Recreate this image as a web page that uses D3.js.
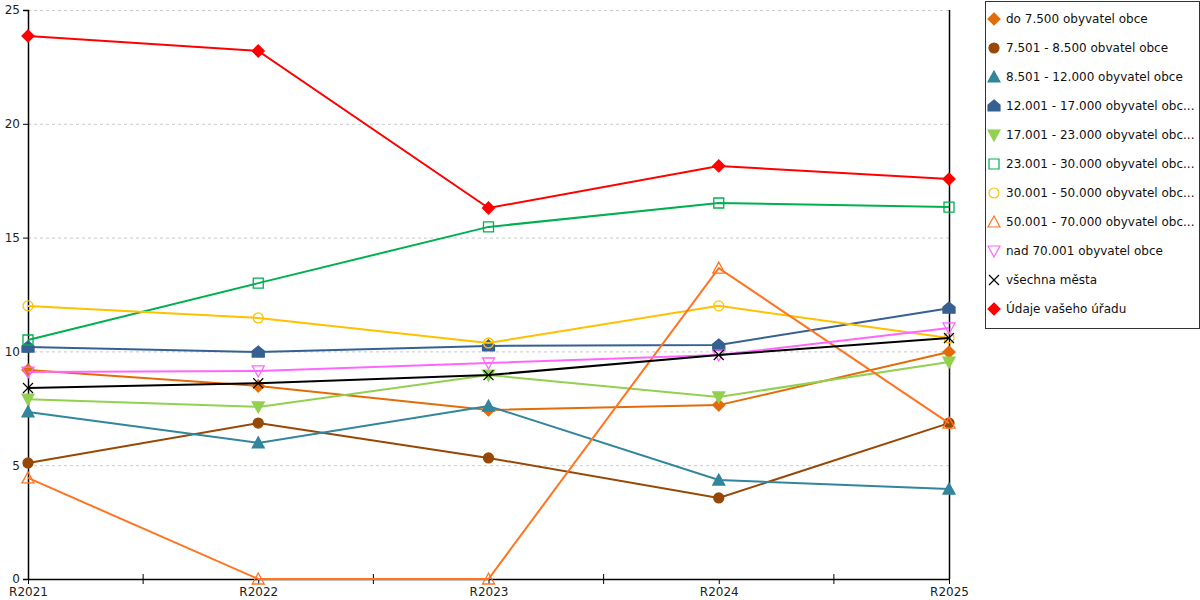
<!DOCTYPE html>
<html>
<head>
<meta charset="utf-8">
<script src="https://cdn.jsdelivr.net/npm/d3@7"></script>
<style>
  body { margin: 0; background: #fff; }
  svg { font-family: "DejaVu Sans", Verdana, sans-serif; }
  .grid line { stroke: #c8c8c8; stroke-dasharray: 3,3; }
</style>
</head>
<body>
<div id="chart"></div>
<script>
// categories (x axis)
var years = ["R2021", "R2022", "R2023", "R2024", "R2025"];

// legend labels, as shown
var seriesNames = [
  "do 7.500 obyvatel obce",
  "7.501 - 8.500 obvatel obce",
  "8.501 - 12.000 obyvatel obce",
  "12.001 - 17.000 obyvatel obc...",
  "17.001 - 23.000 obyvatel obc...",
  "23.001 - 30.000 obyvatel obc...",
  "30.001 - 50.000 obyvatel obc...",
  "50.001 - 70.000 obyvatel obc...",
  "nad 70.001 obyvatel obce",
  "všechna města",
  "Údaje vašeho úřadu"
];

// values per series
var do7500      = [9.18, 8.48, 7.43, 7.64, 9.97];
var do8500      = [5.10, 6.85, 5.32, 3.56, 6.85];
var do12000     = [7.34, 5.98, 7.60, 4.35, 3.95];
var do17000     = [10.19, 9.97, 10.24, 10.28, 11.90];
var do23000     = [7.90, 7.56, 8.96, 8.00, 9.53];
var do30000     = [10.50, 13.00, 15.47, 16.52, 16.34];
var do50000     = [12.00, 11.47, 10.37, 12.00, 10.59];
var do70000     = [4.44, 0, 0, 13.66, 6.85];
var nad70001    = [9.09, 9.14, 9.49, 9.84, 11.03];
var vsechna     = [8.39, 8.60, 8.96, 9.84, 10.59];
var vasUrad     = [23.86, 23.20, 16.30, 18.15, 17.57];

var seriesValues = [do7500, do8500, do12000, do17000, do23000, do30000,
                    do50000, do70000, nad70001, vsechna, vasUrad];

var colors = ["#e36c09", "#974806", "#31859c", "#366092", "#92d050", "#00b050",
              "#ffc000", "#ff7420", "#ff66ff", "#000000", "#ff0000"];
var shapes = ["diamond", "circle", "triangle", "house", "triangleDown", "square",
              "circle", "triangle", "triangleDown", "x", "diamond"];
var filled = [true, true, true, true, true, false, false, false, false, false, true];

var yTicks = [0, 5, 10, 15, 20, 25];

var margin = { top: 10, right: 251, bottom: 21, left: 28 };
var width = 1200 - margin.left - margin.right,
    height = 600 - margin.top - margin.bottom;

var svg = d3.select("#chart").append("svg")
  .attr("width", 1200)
  .attr("height", 600);

var g = svg.append("g")
  .attr("transform", "translate(" + margin.left + "," + margin.top + ")");

var x = d3.scalePoint().domain(years).range([0, width]);
var y = d3.scaleLinear().domain([0, 25]).range([height, 0]);

// marker path generator
function markerPath(shape, s) {
  var h = s / 2;
  if (shape == "diamond") return "M0," + (-h - 1) + "L" + (h + 1) + ",0L0," + (h + 1) + "L" + (-h - 1) + ",0Z";
  if (shape == "circle") return d3.symbol(d3.symbolCircle, s * s * 0.78)();
  if (shape == "square") return "M" + (-h) + "," + (-h) + "h" + s + "v" + s + "h" + (-s) + "Z";
  if (shape == "triangle") return "M0," + (-h - 1) + "L" + (h + 1) + "," + h + "L" + (-h - 1) + "," + h + "Z";
  if (shape == "triangleDown") return "M0," + (h + 1) + "L" + (h + 1) + "," + (-h) + "L" + (-h - 1) + "," + (-h) + "Z";
  if (shape == "house") return "M0," + (-h - 1) + "L" + (h + 1) + ",-1L" + (h + 1) + "," + h + "L" + (-h - 1) + "," + h + "L" + (-h - 1) + ",-1Z";
  if (shape == "x") return "M" + (-h) + "," + (-h) + "L" + h + "," + h + "M" + h + "," + (-h) + "L" + (-h) + "," + h;
}

// grid
g.append("g")
  .attr("class", "grid")
  .selectAll("line")
  .data(yTicks.filter(function (d) { return d > 0; }))
  .enter().append("line")
  .attr("x1", 0).attr("x2", width)
  .attr("y1", function (d) { return y(d) + 0.5; })
  .attr("y2", function (d) { return y(d) + 0.5; });

// right border line
g.append("line")
  .attr("x1", width + 0.5).attr("x2", width + 0.5)
  .attr("y1", 0).attr("y2", height)
  .attr("stroke", "#000").attr("stroke-width", 1.5);

// axes
var yAxis = d3.axisLeft(y).tickValues(yTicks).tickSize(5).tickPadding(3);
g.append("g").attr("class", "y-axis")
  .call(yAxis)
  .call(function (a) {
    a.select(".domain").attr("stroke-width", 1.5);
    a.selectAll("text").attr("font-size", 12).attr("fill", "#222")
      .attr("font-family", "'DejaVu Sans', Verdana, sans-serif");
  });

var xAxis = d3.axisBottom(x).tickSize(5).tickSizeOuter(0).tickPadding(3);
g.append("g").attr("class", "x-axis")
  .attr("transform", "translate(0," + height + ")")
  .call(xAxis)
  .call(function (a) {
    a.select(".domain").attr("stroke-width", 1.5);
    a.selectAll("text").attr("font-size", 12).attr("fill", "#222")
      .attr("font-family", "'DejaVu Sans', Verdana, sans-serif");
  });

// minor ticks between categories
var mids = years.slice(1).map(function (d, i) { return (x(years[i]) + x(d)) / 2; });
g.append("g").selectAll("line")
  .data(mids)
  .enter().append("line")
  .attr("x1", function (d) { return d; }).attr("x2", function (d) { return d; })
  .attr("y1", height - 5).attr("y2", height + 5)
  .attr("stroke", "#000");

// lines
var line = d3.line()
  .x(function (d, i) { return x(years[i]); })
  .y(function (d) { return y(d); });

seriesValues.forEach(function (vals, k) {
  var sg = g.append("g").attr("class", "series");
  sg.append("path")
    .datum(vals)
    .attr("fill", "none")
    .attr("stroke", colors[k])
    .attr("stroke-width", 2)
    .attr("d", line);

  sg.selectAll("path.marker")
    .data(vals)
    .enter().append("path")
    .attr("class", "marker")
    .attr("transform", function (d, i) { return "translate(" + x(years[i]) + "," + y(d) + ")"; })
    .attr("d", markerPath(shapes[k], 10))
    .attr("fill", filled[k] ? colors[k] : "#fff")
    .attr("fill-opacity", filled[k] ? 1 : 0)
    .attr("stroke", colors[k])
    .attr("stroke-width", shapes[k] == "x" ? 1.2 : 1.3);
});

// legend
var legend = svg.append("g").attr("transform", "translate(985,1)");
legend.append("rect")
  .attr("x", 0.5).attr("y", 0.5)
  .attr("width", 214).attr("height", 327)
  .attr("fill", "#fff").attr("stroke", "#333");

var items = legend.selectAll("g.item")
  .data(seriesNames)
  .enter().append("g")
  .attr("class", "item")
  .attr("transform", function (d, i) { return "translate(0," + (18 + i * 29) + ")"; });

items.append("path")
  .attr("transform", "translate(9,0)")
  .attr("d", function (d, i) { return markerPath(shapes[i], 10); })
  .attr("fill", function (d, i) { return filled[i] ? colors[i] : "#fff"; })
  .attr("stroke", function (d, i) { return colors[i]; })
  .attr("stroke-width", 1.2);

items.append("text")
  .attr("x", 21)
  .attr("dy", "0.35em")
  .attr("font-size", 12)
  .attr("textLength", function (d) { return null; })
  .attr("fill", "#111")
  .text(function (d) { return d; });
</script>
</body>
</html>
